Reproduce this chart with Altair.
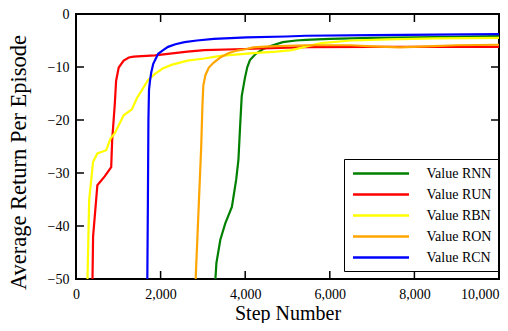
import altair as alt
import pandas as pd

series_names = ["Value RNN", "Value RUN", "Value RBN", "Value RON", "Value RCN"]
series_colors = ["#008000", "#ff0000", "#ffff00", "#ffa500", "#0000ff"]

rnn_steps = [3296, 3319, 3412, 3529, 3685, 3786, 3840, 3879, 3918, 3995, 4050, 4112, 4250, 4423, 4650, 4889, 5200, 5433, 6000, 7000, 8000, 9000, 10000]
rnn_vals = [-50, -47, -42.6, -39.5, -36.4, -31.3, -27.5, -21.3, -15.5, -12.0, -10.0, -8.7, -7.5, -6.6, -5.9, -5.3, -5.0, -4.9, -4.7, -4.5, -4.4, -4.3, -4.15]

run_steps = [390, 404, 505, 683, 832, 855, 917, 948, 1010, 1127, 1250, 1360, 1866, 2635, 3032, 4000, 5433, 7000, 8500, 10000]
run_vals = [-50, -42, -32.3, -30.6, -28.9, -23.8, -17, -12.6, -10.1, -8.8, -8.2, -8.05, -7.8, -7.1, -6.8, -6.6, -6.25, -6.2, -6.2, -6.2]

rbn_steps = [272, 311, 404, 505, 715, 816, 917, 1127, 1321, 1438, 1555, 1700, 1866, 2050, 2254, 2635, 3032, 3412, 4189, 4734, 5100, 5400, 5800, 6500, 7400, 8500, 10000]
rbn_vals = [-50, -35.1, -27.9, -26.3, -25.7, -23.5, -22.5, -19.1, -18.0, -15.9, -14.4, -12.5, -11.3, -10.3, -9.6, -8.8, -8.4, -7.9, -7.4, -7.1, -6.8, -6.2, -5.5, -5.0, -4.8, -4.6, -4.5]

ron_steps = [2829, 2960, 2990, 3010, 3060, 3141, 3250, 3412, 3600, 3801, 4034, 4189, 4578, 5433, 6500, 7000, 7650, 8300, 9000, 10000]
ron_vals = [-50, -25, -17, -13.5, -11.5, -10.1, -9.2, -8.2, -7.4, -6.9, -6.6, -6.3, -6.1, -5.9, -5.9, -6.1, -6.3, -6.1, -5.9, -5.8]

rcn_steps = [1686, 1700, 1712, 1726, 1749, 1780, 1826, 1943, 2060, 2176, 2350, 2565, 2858, 3257, 4034, 4967, 5433, 7000, 8500, 10000]
rcn_vals = [-50, -35, -20, -14.3, -12.6, -11.0, -9.4, -7.5, -6.8, -6.2, -5.7, -5.3, -5.0, -4.7, -4.4, -4.25, -4.1, -4.0, -3.9, -3.8]

x_tick_values = [0, 2000, 4000, 6000, 8000, 10000]
y_tick_values = [0, -10, -20, -30, -40, -50]
x_inner_ticks = [2000, 4000, 6000, 8000]
y_inner_ticks = [-10, -20, -30, -40]

all_steps = [rnn_steps, run_steps, rbn_steps, ron_steps, rcn_steps]
all_vals = [rnn_vals, run_vals, rbn_vals, ron_vals, rcn_vals]
rows = []
for i, (name, st, vs) in enumerate(zip(series_names, all_steps, all_vals)):
    for j, (s, v) in enumerate(zip(st, vs)):
        rows.append({"series": name, "step": s, "value": v, "k": i, "j": j})
df = pd.DataFrame(rows)

W, H = 423, 265
FONT = "Liberation Serif"

x_scale = alt.Scale(domain=[0, 10000], nice=False, zero=False)
y_scale = alt.Scale(domain=[-50, 0], nice=False, zero=False)


def make_chart(legend_stroke=True):
    legend_kwargs = dict(
        title=None, orient="none", legendX=268, legendY=145,
        fillColor="white", strokeColor="black", padding=6, cornerRadius=0,
        symbolType="M-4,0H4", symbolSize=196, symbolStrokeWidth=2.5, symbolOffset=22.5,
        labelFont=FONT, labelFontSize=14, labelColor="black", labelOffset=37,
        rowPadding=5, labelLimit=200,
    )
    if legend_stroke:
        legend_kwargs["strokeWidth"] = 2
    lines = alt.Chart(df).mark_line(strokeWidth=2.2, clip=True).encode(
        x=alt.X("step:Q", scale=x_scale, title="Step Number",
                axis=alt.Axis(values=x_tick_values, format=",d", ticks=False, domain=False, grid=False,
                              labelFont=FONT, labelFontSize=14, labelColor="black", labelPadding=8,
                              labelAlign={"expr": "datum.value >= 10000 ? 'right' : 'center'"},
                              titleFont=FONT, titleFontSize=20, titleFontWeight="normal", titleColor="black",
                              titleBaseline="alphabetic", titleY=40)),
        y=alt.Y("value:Q", scale=y_scale, title="Average Return Per Episode",
                axis=alt.Axis(values=y_tick_values, format="d", ticks=False, domain=False, grid=False,
                              labelFont=FONT, labelFontSize=14, labelColor="black", labelPadding=7,
                              titleFont=FONT, titleFontSize=22.5, titleFontWeight="normal", titleColor="black",
                              titleAngle=270, titleBaseline="alphabetic", titleAlign="center",
                              titleX=-51, titleY=148)),
        color=alt.Color("series:N", scale=alt.Scale(domain=series_names, range=series_colors),
                        legend=alt.Legend(**legend_kwargs)),
        detail="k:N",
        order="j:Q",
    )
    tx = pd.DataFrame({"t": x_inner_ticks})
    ty = pd.DataFrame({"t": y_inner_ticks})
    tick_style = dict(color="black", strokeWidth=1.5)
    bottom = alt.Chart(tx).mark_rule(**tick_style).encode(x=alt.X("t:Q", scale=x_scale), y=alt.value(H), y2=alt.value(H - 8))
    top = alt.Chart(tx).mark_rule(**tick_style).encode(x=alt.X("t:Q", scale=x_scale), y=alt.value(0), y2=alt.value(8))
    left = alt.Chart(ty).mark_rule(**tick_style).encode(y=alt.Y("t:Q", scale=y_scale), x=alt.value(0), x2=alt.value(8))
    right = alt.Chart(ty).mark_rule(**tick_style).encode(y=alt.Y("t:Q", scale=y_scale), x=alt.value(W), x2=alt.value(W - 8))
    chart = alt.layer(lines, bottom, top, left, right).properties(
        width=W, height=H,
        autosize=alt.AutoSizeParams(type="none"),
        padding={"left": 68, "top": 6, "right": 1, "bottom": 44},
        background="white",
    ).configure_view(stroke="black", strokeWidth=2)
    return chart


try:
    chart = make_chart(True)
    chart.to_dict()
except Exception:
    chart = make_chart(False)

chart.save("out.html", embed_options={"renderer": "svg", "actions": False})
